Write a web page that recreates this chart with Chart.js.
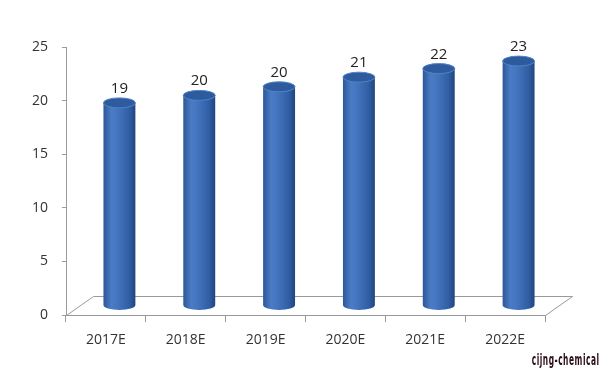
<!DOCTYPE html>
<html>
<head>
<meta charset="utf-8">
<script src="https://cdn.jsdelivr.net/npm/chart.js@4.4.1/dist/chart.umd.min.js"></script>
<style>
    html, body { margin: 0; padding: 0; background: #fff; }
    #wrap { position: relative; width: 600px; height: 371px; }
    #credit {
        position: absolute; right: 0; top: 350px;
        font: bold 16px "Liberation Sans Narrow", "DejaVu Sans Condensed", sans-serif;
        letter-spacing: 1px; color: #2a0c15;
        transform: scaleX(0.52); transform-origin: right top;
        white-space: nowrap;
    }
</style>
</head>
<body>
<div id="wrap">
    <canvas id="chart" width="600" height="371"></canvas>
    <div id="credit">cijng-chemical</div>
</div>
<script>
// data
var years = ['2017E', '2018E', '2019E', '2020E', '2021E', '2022E'];
var values = [18.9, 19.6, 20.4, 21.3, 22.1, 22.8];
var valueLabels = ['19', '20', '20', '21', '22', '23'];
var yTicks = [0, 5, 10, 15, 20, 25];

// depth of the 3d floor, bars stand in the middle of it
var DEPTH_X = 27, DEPTH_Y = -19;

var cylinderPlugin = {
    id: 'cylinder3d',
    beforeDatasetsDraw: function (chart) {
        // floor drawn as a parallelogram behind the bars
        var ctx = chart.ctx, a = chart.chartArea;
        ctx.save();
        ctx.strokeStyle = '#9a9a9a';
        ctx.lineWidth = 1;
        ctx.beginPath();
        ctx.moveTo(a.left + 0.5, a.bottom + 0.5);
        ctx.lineTo(a.left + DEPTH_X + 0.5, a.bottom + DEPTH_Y + 0.5);
        ctx.lineTo(a.right + DEPTH_X + 0.5, a.bottom + DEPTH_Y + 0.5);
        ctx.lineTo(a.right + 0.5, a.bottom + 0.5);
        ctx.stroke();
        ctx.restore();
    },
    afterDatasetsDraw: function (chart) {
        var ctx = chart.ctx;
        var meta = chart.getDatasetMeta(0);
        meta.data.forEach(function (bar, i) {
            var cx = bar.x + DEPTH_X / 2;
            var rx = bar.width / 2;
            var ry = 5;
            var topY = bar.y + DEPTH_Y / 2;
            var botY = bar.base + DEPTH_Y / 2;

            ctx.save();
            // body
            var g = ctx.createLinearGradient(cx - rx, 0, cx + rx, 0);
            g.addColorStop(0, '#2d5797');
            g.addColorStop(0.25, '#4a7cc6');
            g.addColorStop(0.45, '#4474bd');
            g.addColorStop(0.8, '#315fa6');
            g.addColorStop(1, '#21457f');
            ctx.fillStyle = g;
            ctx.beginPath();
            ctx.moveTo(cx - rx, topY);
            ctx.lineTo(cx - rx, botY);
            ctx.ellipse(cx, botY, rx, ry, 0, Math.PI, 0, true);
            ctx.lineTo(cx + rx, topY);
            ctx.closePath();
            ctx.fill();

            // top cap
            ctx.beginPath();
            ctx.ellipse(cx, topY, rx, ry, 0, 0, Math.PI * 2);
            ctx.fillStyle = '#2e5a9e';
            ctx.fill();
            ctx.strokeStyle = '#5283c6';
            ctx.lineWidth = 1;
            ctx.stroke();

            // value label
            ctx.fillStyle = '#222';
            ctx.font = '15px "Open Sans", sans-serif';
            ctx.textAlign = 'center';
            ctx.textBaseline = 'alphabetic';
            ctx.fillText(valueLabels[i], cx, topY - ry - 5);
            ctx.restore();
        });
    }
};

var ctx = document.getElementById('chart').getContext('2d');
var chart = new Chart(ctx, {
    type: 'bar',
    data: {
        labels: years,
        datasets: [{
            data: values,
            backgroundColor: 'rgba(0,0,0,0)',
            borderWidth: 0,
            categoryPercentage: 1,
            barPercentage: 0.4
        }]
    },
    options: {
        responsive: false,
        animation: false,
        layout: { padding: { top: 47, right: 55, left: 0, bottom: 0 } },
        plugins: {
            legend: { display: false },
            tooltip: { enabled: false }
        },
        scales: {
            x: {
                grid: { drawOnChartArea: false, tickLength: 7, color: '#9a9a9a' },
                border: { color: '#9a9a9a' },
                ticks: {
                    color: '#333',
                    padding: 10,
                    font: { family: '"Open Sans", sans-serif', size: 14 }
                },
                afterFit: function (scale) { scale.height = 56; }
            },
            y: {
                min: 0,
                max: 25,
                afterBuildTicks: function (scale) {
                    scale.ticks = yTicks.map(function (v) { return { value: v }; });
                },
                grid: { drawOnChartArea: false, tickLength: 4, color: '#9a9a9a' },
                border: { color: '#9a9a9a' },
                ticks: {
                    color: '#333',
                    padding: 14,
                    font: { family: '"Open Sans", sans-serif', size: 14 }
                },
                afterFit: function (scale) { scale.width = 66; }
            }
        }
    },
    plugins: [cylinderPlugin]
});
</script>
</body>
</html>
